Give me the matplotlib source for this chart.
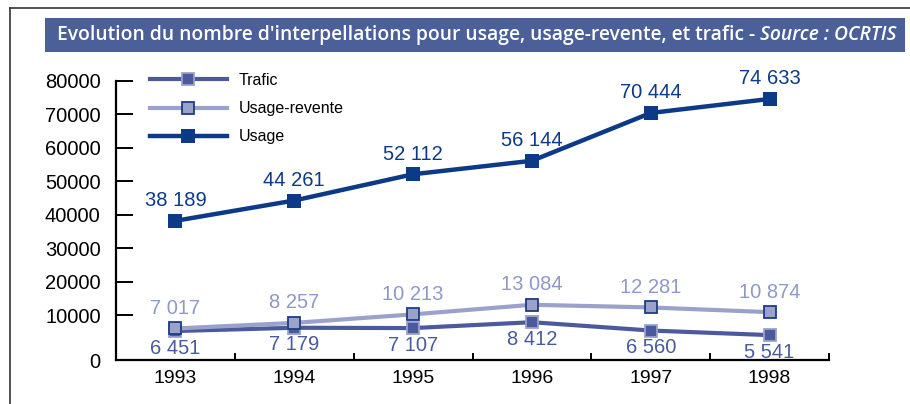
import matplotlib
matplotlib.use("Agg")
import numpy as np
import matplotlib.pyplot as plt
from matplotlib.lines import Line2D
from matplotlib.patches import Rectangle
from matplotlib.ticker import FixedLocator, NullFormatter

plt.rcParams['font.family'] = ['Liberation Sans', 'DejaVu Sans']

years = ["1993", "1994", "1995", "1996", "1997", "1998"]
usage = [38189, 44261, 52112, 56144, 70444, 74633]
usage_revente = [7017, 8257, 10213, 13084, 12281, 10874]
trafic = [6451, 7179, 7107, 8412, 6560, 5541]
yticks = [0, 10000, 20000, 30000, 40000, 50000, 60000, 70000, 80000]

title_main = "Evolution du nombre d'interpellations pour usage, usage-revente, et trafic - "
title_source = "Source : OCRTIS"

NAVY = "#0c3a86"
MID = "#4a5a9c"
LIGHT = "#9aa2cc"
BOX = "#4b5f99"

# value axis: the first 10 000 band is drawn taller than the others
BREAK = 10000.0
STRETCH = 45.0 / 33.5


def fwd(y):
    y = np.asarray(y, dtype=float)
    return np.where(y <= BREAK, y * STRETCH, BREAK * STRETCH + (y - BREAK))


def inv(u):
    u = np.asarray(u, dtype=float)
    return np.where(u <= BREAK * STRETCH, u / STRETCH, u - BREAK * STRETCH + BREAK)


def fmt(v):
    return f"{v:,}".replace(",", " ")


fig = plt.figure(figsize=(9.10, 4.04), dpi=100)
W, H = 910, 404
ax = fig.add_axes([116 / W, 1 - 360 / H, (829 - 116) / W, (360 - 81) / H])
ax.set_yscale("function", functions=(fwd, inv))

x = list(range(len(years)))

ax.plot(x, trafic, color=MID, lw=3, marker="s", ms=9,
        mfc=MID, mec=LIGHT, mew=1.3, zorder=3, label="Trafic")
ax.plot(x, usage_revente, color=LIGHT, lw=3, marker="s", ms=8.5,
        mfc=LIGHT, mec="#1f3d84", mew=1.3, zorder=4, label="Usage-revente")
ax.plot(x, usage, color=NAVY, lw=3.2, marker="s", ms=10,
        mfc=NAVY, mec=NAVY, mew=0, zorder=5, label="Usage")

for xi, v in zip(x, usage):
    ax.annotate(fmt(v), (xi, v), xytext=(0, 20), textcoords="offset pixels",
                ha="center", va="center", fontsize=14.5, color=NAVY)
for xi, v in zip(x, usage_revente):
    ax.annotate(fmt(v), (xi, v), xytext=(0, 20), textcoords="offset pixels",
                ha="center", va="center", fontsize=14.5, color="#8f98c8")
for xi, v in zip(x, trafic):
    ax.annotate(fmt(v), (xi, v), xytext=(0, -17), textcoords="offset pixels",
                ha="center", va="center", fontsize=14.5, color=MID)

ax.set_xlim(-0.5, len(years) - 0.5)
ax.set_ylim(0, 80000)

ax.spines["top"].set_visible(False)
ax.spines["right"].set_visible(False)
for s in ["left", "bottom"]:
    ax.spines[s].set_linewidth(1.6)
    ax.spines[s].set_color("black")

ax.set_xticks(x)
ax.set_xticklabels(years, fontsize=14)
ax.tick_params(axis="x", which="major", length=0, pad=7)
ax.xaxis.set_minor_locator(FixedLocator([i - 0.5 for i in range(len(years) + 1)]))
ax.xaxis.set_minor_formatter(NullFormatter())
ax.tick_params(axis="x", which="minor", direction="in", length=5, width=1.4)

ax.yaxis.set_major_locator(FixedLocator(yticks))
ax.yaxis.set_minor_locator(FixedLocator([]))
ax.set_yticklabels([str(t) for t in yticks], fontsize=14.5)
ax.tick_params(axis="y", which="major", direction="in", length=12, width=1.4, pad=11)

leg = ax.legend(loc="upper left", bbox_to_anchor=(150 / W, 1 - 73 / H),
                bbox_transform=fig.transFigure, frameon=False, fontsize=11.5,
                handlelength=4.8, handletextpad=0.75, labelspacing=0.82,
                borderpad=0, borderaxespad=0)

# outer frame lines and title banner
fig.add_artist(Line2D([10 / W, 1], [1 - 8 / H, 1 - 8 / H], color="#333333", lw=1.2))
fig.add_artist(Line2D([10 / W, 10 / W], [0, 1 - 8 / H], color="#333333", lw=1.2))
fig.add_artist(Rectangle((45 / W, 1 - 52 / H), (905 - 45) / W, 34 / H,
                         transform=fig.transFigure, color=BOX, lw=0))

title_kw = dict(color="white", family="Open Sans", weight="semibold",
                va="center", ha="left")
t1 = fig.text(57 / W, 1 - 35 / H, title_main, fontsize=12, **title_kw)
t2 = fig.text(0, 1 - 35 / H, title_source, fontsize=12, style="italic", **title_kw)
fig.canvas.draw()
r = fig.canvas.get_renderer()
w_total = t1.get_window_extent(r).width + t2.get_window_extent(r).width
size = 12 * (898 - 57) / w_total
t1.set_fontsize(size)
t2.set_fontsize(size)
fig.canvas.draw()
t2.set_x(t1.get_window_extent(r).x1 / W)

fig.savefig("out.png", dpi=100)
